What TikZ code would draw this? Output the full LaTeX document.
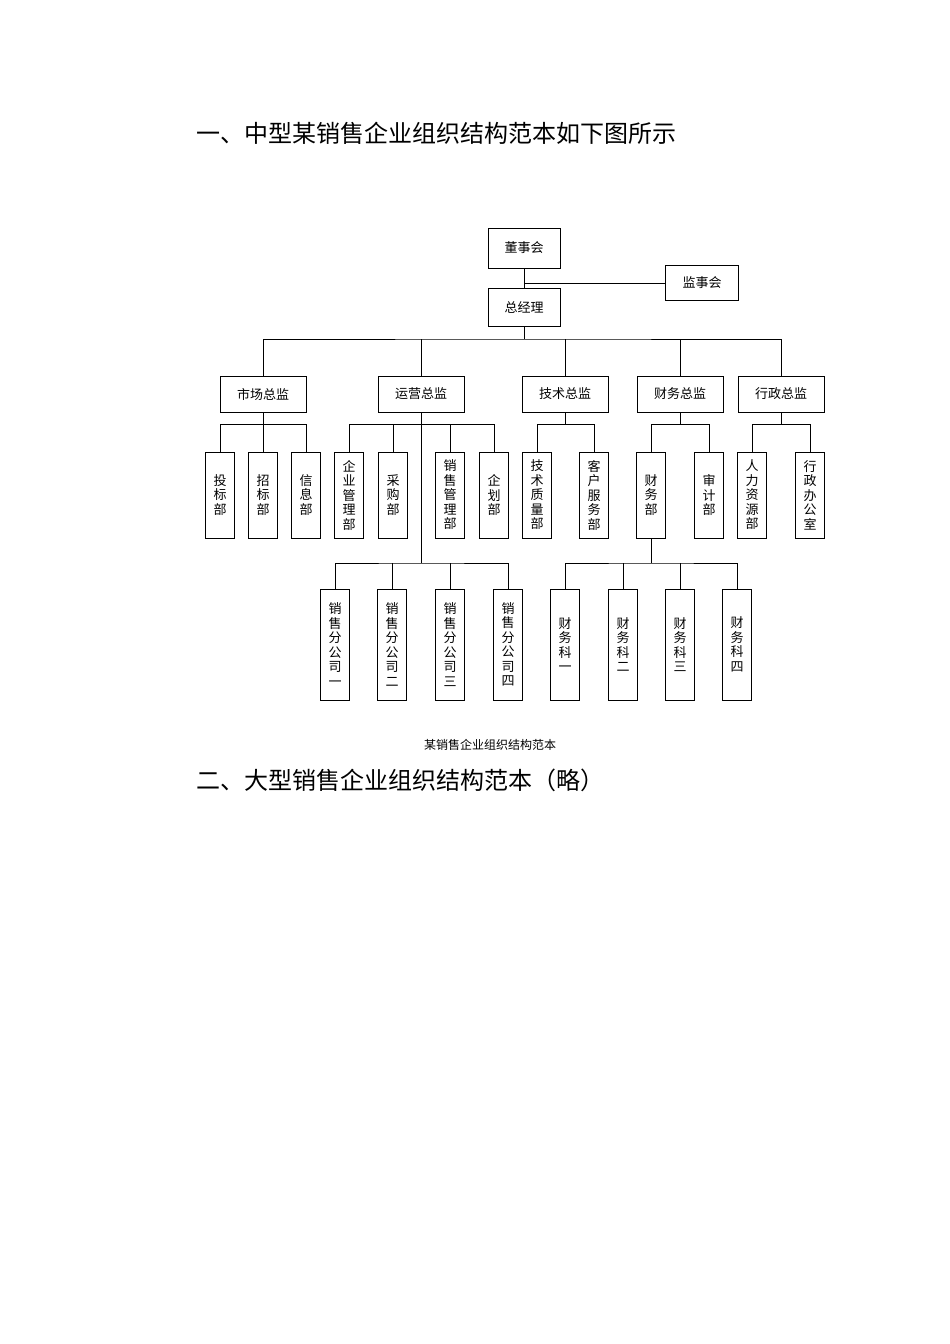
\documentclass[tikz,border=0pt]{standalone}
\usepackage{fontspec}
\setmainfont{Noto Sans CJK SC}
\begin{document}
\begin{tikzpicture}[x=1pt,y=-1pt,
 bx/.style={draw,line width=0.9pt,minimum width=#1,inner sep=0pt,font=\fontsize{13}{15}\selectfont},
 bx/.default=86pt,
 vb/.style={draw,line width=0.9pt,minimum width=29pt,inner sep=0pt,align=center,font=\fontsize{13}{14.5}\selectfont},
 ln/.style={line width=0.9pt}]
\useasboundingbox (0,0) rectangle (950,1344);
\node[font=\fontsize{24}{28}\selectfont,anchor=west] (h1) at (193,133) {一、中型某销售企业组织结构范本如下图所示};
\node[font=\fontsize{24}{28}\selectfont,anchor=west] (h2) at (193,780) {二、大型销售企业组织结构范本（略）};
\node[font=\fontsize{12}{14}\selectfont] (cap) at (490,745) {某销售企业组织结构范本};
\node[bx=72pt,minimum height=40pt] (dsh) at (524,248) {董事会};
\node[bx=73pt,minimum height=35pt] (jsh) at (702,283) {监事会};
\node[bx=72pt,minimum height=38pt] (zjl) at (524,307) {总经理};
\foreach \n/\x/\t in {a/263/市场总监,b/421/运营总监,c/565/技术总监,d/680/财务总监,e/781/行政总监}
  \node[bx,minimum height=36pt] (\n) at (\x,394) {\t};
\foreach \n/\x/\t in {a1/220/投\\标\\部,a2/263/招\\标\\部,a3/306/信\\息\\部,
  b1/349/企\\业\\管\\理\\部,b2/393/采\\购\\部,b3/450/销\\售\\管\\理\\部,b4/494/企\\划\\部,
  c1/537/技\\术\\质\\量\\部,c2/594/客\\户\\服\\务\\部,d1/651/财\\务\\部,d2/709/审\\计\\部,
  e1/752/人\\力\\资\\源\\部,e2/810/行\\政\\办\\公\\室}
  \node[vb,minimum height=86pt] (\n) at (\x,495) {\t};
\foreach \n/\x/\t in {s1/335/一,s2/392/二,s3/450/三,s4/508/四}
  \node[vb,minimum height=111pt] (\n) at (\x,644.5) {销\\售\\分\\公\\司\\\t};
\foreach \n/\x/\t in {f1/565/一,f2/623/二,f3/680/三,f4/737/四}
  \node[vb,minimum height=111pt] (\n) at (\x,644.5) {财\\务\\科\\\t};
\draw[ln] (dsh) -- (zjl);
\draw[ln] (dsh.south |- jsh) -- (jsh);
\coordinate (bus) at (524,339);
\draw[ln] (zjl.south) -- (bus);
\draw[ln] (a.north) |- (bus) -| (e.north);
\foreach \n in {b,c,d} \draw[ln] (\n.north) -- (\n.north |- bus);
\foreach \p/\l/\r/\m in {a/a1/a3/a2,b/b1/b4/b2,c/c1/c2/c1,d/d1/d2/d1,e/e1/e2/e1}{
  \draw[ln] (\l.north) -- ++(0,-27) coordinate (t\l) -| (\r.north);
  \draw[ln] (\p.south) -- (\p.south |- t\l);
}
\foreach \n in {a2,b2,b3} \draw[ln] (\n.north) -- ++(0,-27);
\coordinate (sb) at (421,563);
\draw[ln] (b.south) -- (sb);
\draw[ln] (s1.north) |- (sb) -| (s4.north);
\foreach \n in {s2,s3} \draw[ln] (\n.north) -- (\n.north |- sb);
\coordinate (fb) at (651,563);
\draw[ln] (d1.south) -- (fb);
\draw[ln] (f1.north) |- (fb) -| (f4.north);
\foreach \n in {f2,f3} \draw[ln] (\n.north) -- (\n.north |- fb);
\end{tikzpicture}
\end{document}
